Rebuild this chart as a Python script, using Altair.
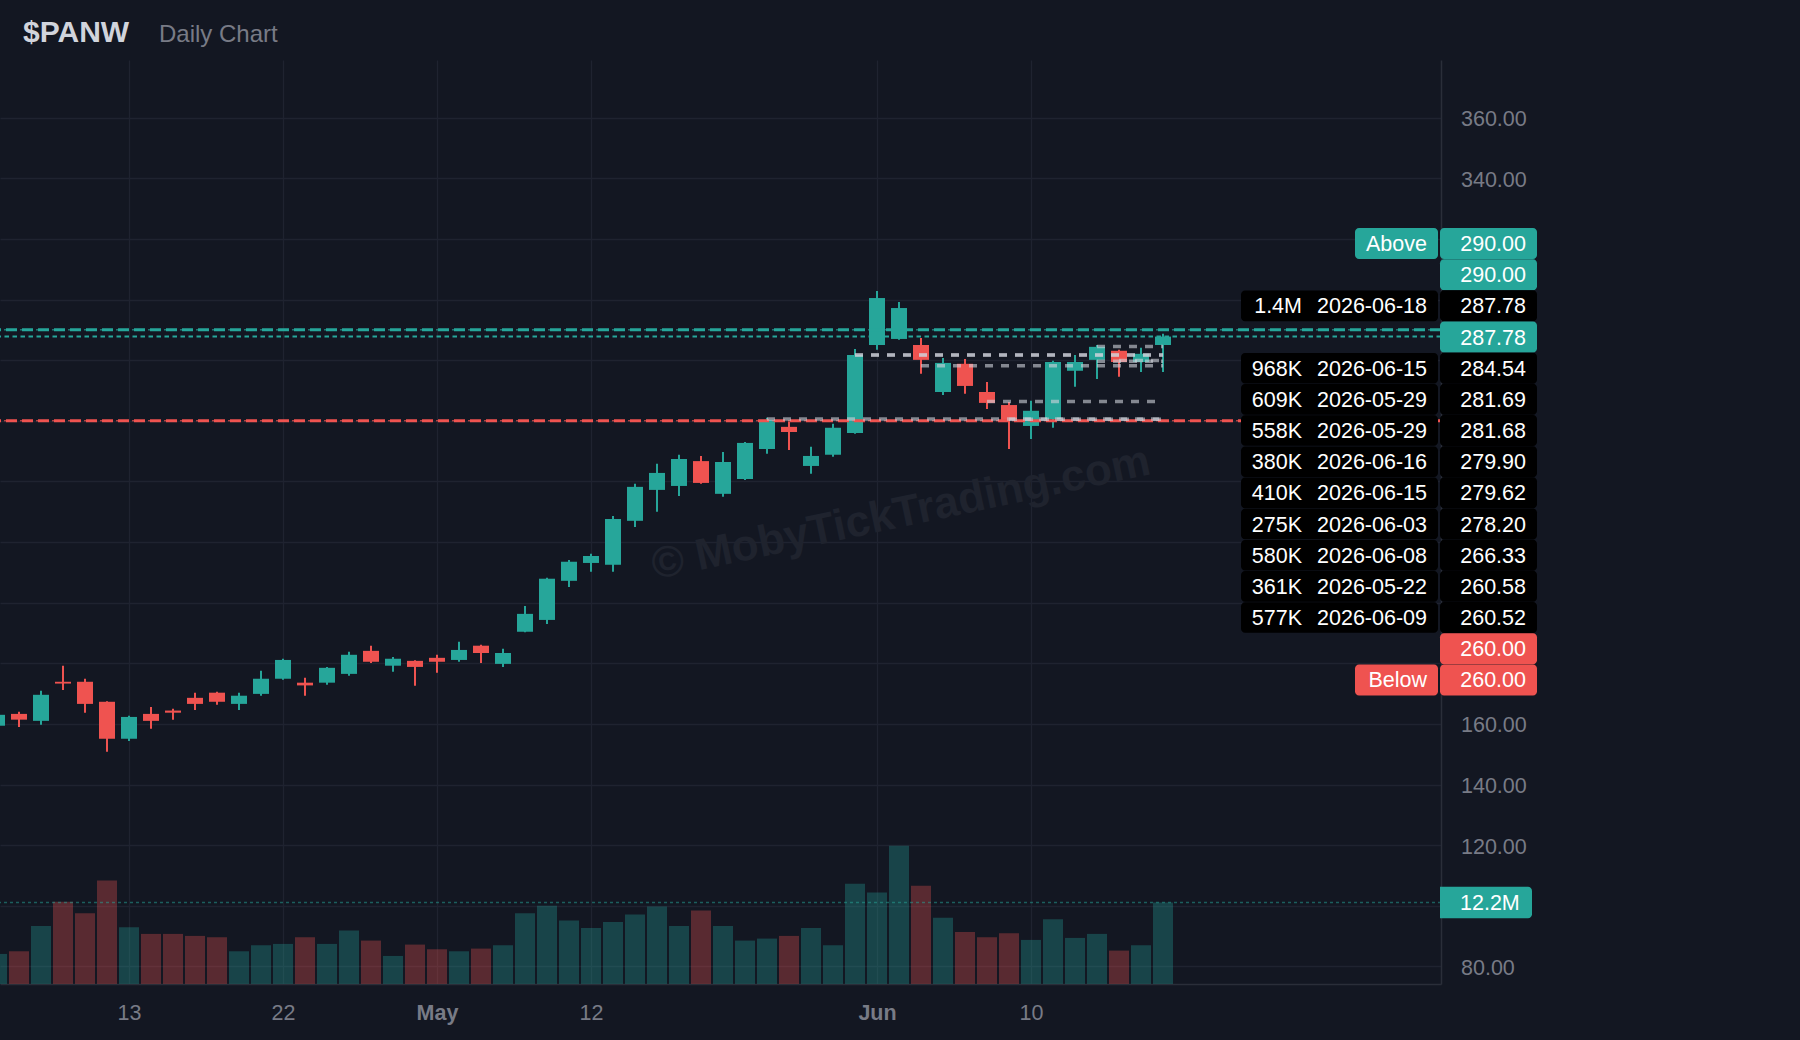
import altair as alt
import pandas as pd

# ---------------- data ----------------
dates = [
    "2026-04-02", "2026-04-06", "2026-04-07", "2026-04-08", "2026-04-09", "2026-04-10",
    "2026-04-13", "2026-04-14", "2026-04-15", "2026-04-16", "2026-04-17",
    "2026-04-20", "2026-04-21", "2026-04-22", "2026-04-23", "2026-04-24",
    "2026-04-27", "2026-04-28", "2026-04-29", "2026-04-30", "2026-05-01",
    "2026-05-04", "2026-05-05", "2026-05-06", "2026-05-07", "2026-05-08",
    "2026-05-11", "2026-05-12", "2026-05-13", "2026-05-14", "2026-05-15",
    "2026-05-18", "2026-05-19", "2026-05-20", "2026-05-21", "2026-05-22",
    "2026-05-26", "2026-05-27", "2026-05-28", "2026-05-29",
    "2026-06-01", "2026-06-02", "2026-06-03", "2026-06-04", "2026-06-05",
    "2026-06-08", "2026-06-09", "2026-06-10", "2026-06-11", "2026-06-12",
    "2026-06-15", "2026-06-16", "2026-06-17", "2026-06-18",
]
opens = [159.4, 163.3, 161.0, 173.9, 173.9, 167.3, 155.1, 163.3, 164.4, 168.6,
         170.3, 166.6, 169.9, 174.9, 173.6, 173.6, 176.5, 184.1, 179.2, 180.8,
         181.8, 181.1, 185.8, 179.8, 190.4, 194.3, 207.2, 213.1, 212.5, 227.0,
         237.2, 238.5, 246.7, 235.9, 240.8, 250.7, 258.0, 245.1, 248.8, 256.0,
         285.0, 287.0, 285.0, 269.5, 278.8, 269.5, 265.2, 258.3, 260.6, 276.5,
         280.1, 283.1, 279.4, 285.0]
highs = [163.5, 164.0, 170.9, 179.2, 174.9, 167.5, 162.7, 165.6, 165.0, 170.3,
         170.6, 170.3, 177.5, 181.5, 175.2, 178.8, 183.8, 185.8, 182.1, 181.0,
         182.8, 187.1, 186.1, 184.8, 198.9, 208.2, 214.1, 216.1, 228.6, 239.2,
         245.8, 248.8, 248.4, 249.7, 253.0, 261.0, 259.8, 251.4, 259.0, 283.7,
         302.8, 299.2, 287.3, 280.7, 280.4, 272.8, 266.2, 266.6, 279.8, 281.7,
         285.0, 283.4, 284.1, 288.7]
lows = [159.0, 159.0, 159.7, 171.2, 163.7, 150.8, 154.4, 158.4, 161.4, 164.6,
        166.3, 164.6, 169.3, 174.6, 169.3, 172.9, 175.9, 180.1, 177.2, 172.6,
        176.9, 180.5, 180.1, 178.8, 190.2, 193.0, 205.2, 210.2, 210.2, 225.0,
        230.0, 235.2, 239.2, 234.9, 240.5, 249.1, 250.4, 242.5, 248.1, 255.7,
        283.4, 286.7, 275.5, 268.5, 268.9, 263.9, 250.7, 254.0, 257.7, 271.2,
        273.8, 274.5, 276.1, 276.1]
closes = [163.0, 161.4, 169.6, 173.3, 166.6, 155.1, 162.3, 161.0, 163.7, 166.6,
          167.3, 169.3, 174.9, 181.1, 172.7, 178.5, 182.8, 180.5, 181.5, 178.8,
          180.5, 184.4, 183.4, 183.4, 196.3, 207.9, 213.5, 215.4, 227.6, 238.2,
          242.8, 247.4, 239.5, 246.4, 252.7, 260.3, 256.3, 248.4, 257.7, 281.7,
          300.5, 297.2, 280.1, 279.1, 271.5, 265.9, 260.3, 263.3, 279.4, 279.4,
          284.4, 279.4, 282.1, 287.78]
volumes_m = [4.5, 4.9, 8.7, 12.3, 10.6, 15.5, 8.5, 7.5, 7.5, 7.2,
             7.0, 4.9, 5.8, 6.0, 7.0, 6.0, 8.0, 6.5, 4.2, 5.9,
             5.2, 4.9, 5.3, 5.8, 10.6, 11.7, 9.5, 8.4, 9.3, 10.4,
             11.6, 8.7, 11.0, 8.7, 6.5, 6.8, 7.2, 8.4, 5.8, 15.0,
             13.7, 20.7, 14.7, 9.9, 7.8, 7.0, 7.6, 6.6, 9.7, 6.9,
             7.5, 5.0, 5.8, 12.2]

tick_dates = ["2026-04-13", "2026-04-22", "2026-05-01", "2026-05-12", "2026-06-01", "2026-06-10"]
tick_labels = ["13", "22", "May", "12", "Jun", "10"]
month_labels = ["May", "Jun"]

price_ticks = [80, 100, 120, 140, 160, 180, 200, 220, 240, 260, 280, 300, 320, 340, 360]
price_ticks_shown = [360, 340, 160, 140, 120, 80]

alert_above = 290.00
alert_below = 260.00
last_price = 287.78
last_volume_m = 12.2
last_volume_text = "12.2M"

trade_sizes = ["1.4M", "968K", "609K", "558K", "380K", "410K", "275K", "580K", "361K", "577K"]
trade_dates = ["2026-06-18", "2026-06-15", "2026-05-29", "2026-05-29", "2026-06-16",
               "2026-06-15", "2026-06-03", "2026-06-08", "2026-05-22", "2026-06-09"]
trade_prices = [287.78, 284.54, 281.69, 281.68, 279.90, 279.62, 278.20, 266.33, 260.58, 260.52]

ticker = "$PANW"
subtitle = "Daily Chart"
watermark = "© MobyTickTrading.com"

# ---------------- styles ----------------
UP = "#26a69a"
DOWN = "#ef5350"
BG = "#131722"
GRID = "#1f2330"
BORDER = "#2a2e39"
LABEL = "#787b86"
FONT = "Liberation Sans"
FS = 21.5

W, H = 1441, 924

idx = {d: i for i, d in enumerate(dates)}
last_idx = len(dates) - 1

candles = pd.DataFrame({
    "i": list(range(len(dates))), "date": dates, "open": opens, "high": highs,
    "low": lows, "close": closes, "volume": volumes_m,
})
candles["dir"] = ["up" if c >= o else "down" for o, c in zip(opens, closes)]

trades = pd.DataFrame({"size": trade_sizes, "date": trade_dates, "price": trade_prices})
trades["i"] = [idx[d] for d in trade_dates]

# ---------------- scales / axes ----------------
tick_idx = [idx[d] for d in tick_dates]
x_label_expr = " : ".join(f"datum.value == {i} ? '{l}'" for i, l in zip(tick_idx, tick_labels)) + " : ''"
bold_test = " || ".join(f"datum.value == {i}" for i, l in zip(tick_idx, tick_labels) if l in month_labels)

xscale = alt.Scale(domain=[3 / 22, (W + 3) / 22], nice=False, zero=False, padding=0)
xaxis = alt.Axis(values=tick_idx, labelExpr=x_label_expr, title=None, grid=True,
                 gridColor=GRID, gridWidth=1.3, ticks=False, domainColor=BORDER,
                 domainWidth=1.5, labelColor=LABEL, labelFontSize=FS, labelFont=FONT,
                 labelPadding=18, labelOverlap=False, labelFlush=False,
                 labelFontWeight={"condition": {"test": bold_test, "value": "bold"}, "value": "normal"})
X = alt.X("i:Q", scale=xscale, axis=xaxis)

yscale = alt.Scale(domain=[74.19, 379.03], nice=False, zero=False, padding=0)
shown = ",".join(str(v) for v in price_ticks_shown)
yaxis = alt.Axis(orient="right", values=price_ticks, title=None, grid=True, gridColor=GRID,
                 gridWidth=1.3, ticks=False, domainColor=BORDER, domainWidth=1.5,
                 labelColor=LABEL, labelFontSize=FS, labelFont=FONT, labelPadding=19.5,
                 labelAlign="left", labelBaseline="middle", labelOverlap=False, labelFlush=False,
                 labelOffset=2,
                 labelExpr=f"indexof([{shown}], datum.value) >= 0 ? format(datum.value, '.2f') : ''")

dircolor = alt.Color("dir:N", scale=alt.Scale(domain=["up", "down"], range=[UP, DOWN]), legend=None)

vscale = alt.Scale(domain=[0, H / 6.68], nice=False, zero=True, padding=0)

# ---------------- watermark ----------------
wm = alt.Chart(pd.DataFrame({"t": [watermark]})).mark_text(
    font=FONT, fontSize=44, fontWeight="bold", color="#1f232e", angle=348,
    align="center", baseline="middle"
).encode(text="t:N", x=alt.value(901), y=alt.value(454))

# ---------------- volume ----------------
vol_bars = alt.Chart(candles).mark_bar(width=20, opacity=0.32, clip=True).encode(
    x=X, y=alt.Y("volume:Q", scale=vscale, axis=None), color=dircolor)
vdf = pd.DataFrame({"v": [last_volume_m], "t": [last_volume_text]})
vol_line = alt.Chart(vdf).mark_rule(color=UP, opacity=0.5, strokeWidth=1.6, strokeDash=[3, 3]).encode(
    y=alt.Y("v:Q", scale=vscale, axis=None))
vol_box = alt.Chart(vdf).mark_rect(color=UP, yOffset=-15.8, y2Offset=15.8,
                                   cornerRadiusTopRight=4, cornerRadiusBottomRight=4).encode(
    x=alt.value(1440), x2=alt.value(1532), y=alt.Y("v:Q", scale=vscale, axis=None), y2="v:Q")
vol_text = alt.Chart(vdf).mark_text(font=FONT, fontSize=FS, color="#ffffff", align="left",
                                    baseline="middle", dy=1.5).encode(
    x=alt.value(1460), y=alt.Y("v:Q", scale=vscale, axis=None), text="t:N")
vol_group = alt.layer(vol_bars, vol_line, vol_box, vol_text)

# ---------------- price ----------------
base = alt.Chart(candles)
wicks = base.mark_rule(strokeWidth=2, clip=True).encode(
    x=X, y=alt.Y("low:Q", scale=yscale, axis=yaxis), y2="high:Q", color=dircolor)
bodies = base.mark_bar(width=16, clip=True).encode(
    x=X, y=alt.Y("open:Q", scale=yscale, axis=yaxis), y2="close:Q", color=dircolor)


def hline(value, color, width, dash, opacity=1.0):
    return alt.Chart(pd.DataFrame({"v": [value]})).mark_rule(
        color=color, strokeWidth=width, strokeDash=dash, opacity=opacity, clip=True
    ).encode(y=alt.Y("v:Q", scale=yscale, axis=yaxis))


lines = [
    hline(alert_above, UP, 1.0, [5, 3]),
    hline(alert_above, UP, 3.0, [11, 5]),
    hline(alert_below, DOWN, 1.0, [5, 3]),
    hline(alert_below, DOWN, 3.0, [11, 5]),
    hline(last_price, UP, 2.0, [4.5, 3.5]),
]

trade_lines = alt.Chart(trades).mark_rule(
    color="#d1d4dc", opacity=0.6, strokeWidth=3.5, strokeDash=[8, 8], clip=True
).transform_calculate(i_end=f"{last_idx}").encode(
    x=X, x2="i_end:Q", y=alt.Y("price:Q", scale=yscale, axis=yaxis))

price_group = alt.layer(wicks, bodies, *lines, trade_lines)

# ---------------- right-side labels ----------------
rows = [
    {"left": "Above", "lkind": "alert", "price": alert_above, "kind": "up"},
    {"left": "", "lkind": "none", "price": alert_above, "kind": "up"},
]
for k, (s, d, p) in enumerate(zip(trade_sizes, trade_dates, trade_prices)):
    rows.append({"left": s, "ldate": d, "lkind": "trade", "price": p, "kind": "trade"})
    if k == 0:
        rows.append({"left": "", "lkind": "none", "price": last_price, "kind": "up"})
rows.append({"left": "", "lkind": "none", "price": alert_below, "kind": "down"})
rows.append({"left": "Below", "lkind": "alert", "price": alert_below, "kind": "down"})
labels = pd.DataFrame(rows)
labels["slot"] = list(range(len(labels)))
labels["ptext"] = [f"{p:.2f}" for p in labels["price"]]
labels["ldate"] = labels["ldate"].fillna("")

n_slots = len(labels)
sscale = alt.Scale(domain=[0, n_slots - 1], range=[183.5, 183.5 + 31.17 * (n_slots - 1)])
SY = alt.Y("slot:Q", scale=sscale, axis=None)
kcolor = alt.Color("kind:N", scale=alt.Scale(domain=["up", "trade", "down"],
                                              range=[UP, "#000000", DOWN]), legend=None)

lab = alt.Chart(labels)
price_box = lab.mark_rect(yOffset=-15.5, y2Offset=15.5, cornerRadius=4).encode(
    x=alt.value(1440), x2=alt.value(1537), y=SY, y2="slot:Q", color=kcolor)
trade_box = lab.transform_filter("datum.lkind == 'trade'").mark_rect(
    yOffset=-15.3, y2Offset=15.3, cornerRadius=4, color="#000000").encode(
    x=alt.value(1241), x2=alt.value(1438), y=SY, y2="slot:Q")
alert_box = lab.transform_filter("datum.lkind == 'alert'").mark_rect(
    yOffset=-15.5, y2Offset=15.5, cornerRadius=4).encode(
    x=alt.value(1355), x2=alt.value(1438), y=SY, y2="slot:Q", color=kcolor)
txt = dict(font=FONT, fontSize=FS, color="#ffffff", baseline="middle", align="right", dy=1.5)
price_txt = lab.mark_text(**txt).encode(x=alt.value(1526), y=SY, text="ptext:N")
alert_txt = lab.transform_filter("datum.lkind == 'alert'").mark_text(**txt).encode(
    x=alt.value(1427), y=SY, text="left:N")
size_txt = lab.transform_filter("datum.lkind == 'trade'").mark_text(**txt).encode(
    x=alt.value(1302), y=SY, text="left:N")
date_txt = lab.transform_filter("datum.lkind == 'trade'").mark_text(**txt).encode(
    x=alt.value(1427), y=SY, text="ldate:N")

title_df = pd.DataFrame({"a": [ticker], "b": [subtitle]})
title1 = alt.Chart(title_df).mark_text(font=FONT, fontSize=30, fontWeight="bold", color="#d1d4dc",
                                       align="left", baseline="alphabetic").encode(
    text="a:N", x=alt.value(23), y=alt.value(-18))
title2 = alt.Chart(title_df).mark_text(font=FONT, fontSize=24, color=LABEL,
                                       align="left", baseline="alphabetic").encode(
    text="b:N", x=alt.value(159), y=alt.value(-18))

label_group = alt.layer(price_box, trade_box, alert_box, price_txt, alert_txt, size_txt,
                        date_txt, title1, title2)

chart = alt.layer(wm, vol_group, price_group, label_group).resolve_scale(
    y="independent", color="independent"
).properties(
    width=W, height=H,
    autosize=alt.AutoSizeParams(type="none"),
    padding={"left": 0, "top": 60, "right": 1800 - W, "bottom": 1040 - 60 - H},
).configure(background=BG, font=FONT).configure_view(strokeWidth=0)

chart.save("out.html", embed_options={"renderer": "svg", "actions": False})
